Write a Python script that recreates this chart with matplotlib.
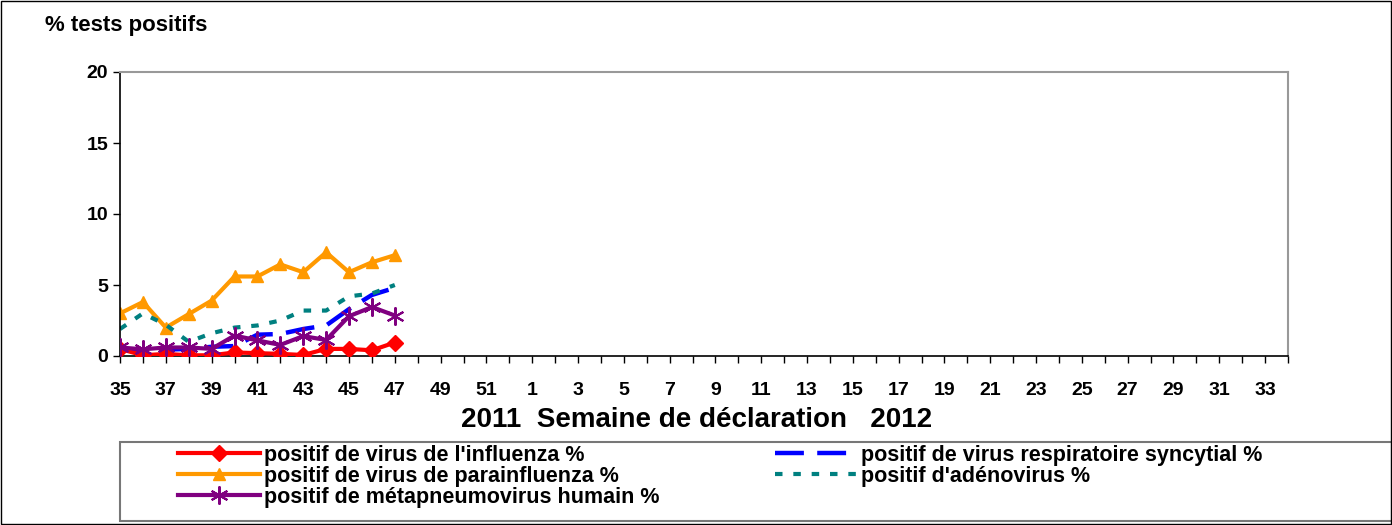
import numpy as np
import matplotlib.pyplot as plt
from matplotlib.patches import Rectangle

plt.rcParams['font.family'] = ['Liberation Sans', 'DejaVu Sans']
plt.rcParams['font.weight'] = 'bold'

# semaines 35..52 (2011) puis 1..34 (2012)
weeks = list(range(35, 53)) + list(range(1, 35))

influenza = [0.5, 0.05, 0.15, 0.05, 0.05, 0.25, 0.2, 0.15, 0.07, 0.5, 0.5, 0.4, 0.95]
rsv = [0.45, 0.4, 0.45, 0.5, 0.65, 0.7, 1.5, 1.55, 1.9, 2.15, 3.3, 4.3, 4.8]
parainfluenza = [3.0, 3.8, 2.0, 2.95, 3.9, 5.6, 5.6, 6.45, 5.9, 7.3, 5.9, 6.6, 7.1]
adenovirus = [1.9, 3.0, 2.2, 1.0, 1.6, 2.0, 2.15, 2.5, 3.2, 3.2, 4.2, 4.4, 5.0]
metapneumo = [0.6, 0.47, 0.6, 0.6, 0.5, 1.44, 1.1, 0.78, 1.4, 1.13, 2.8, 3.45, 2.85]


def pad(vals):
    out = np.full(len(weeks), np.nan)
    out[:len(vals)] = vals
    return out


x = np.arange(len(weeks))
W, H = 1392, 525

fig = plt.figure(figsize=(13.92, 5.25), dpi=100)
ax = fig.add_axes([120 / W, 1 - 356 / H, 1168 / W, 284 / H])

l1, = ax.plot(x, pad(influenza), color='#ff0000', lw=3, marker='D', ms=8,
              label="positif de virus de l'influenza %")
l2, = ax.plot(x, pad(parainfluenza), color='#ff9900', lw=3, marker='^', ms=9,
              label="positif de virus de parainfluenza %")
l3, = ax.plot(x, pad(metapneumo), color='#800080', lw=3, marker=(6, 2, 0), ms=13,
              mew=1.5, label="positif de métapneumovirus humain %")
l4, = ax.plot(x, pad(rsv), color='#0000ff', lw=3.2, dashes=(6.5, 3),
              label="positif de virus respiratoire syncytial %")
l5, = ax.plot(x, pad(adenovirus), color='#008080', lw=3, dashes=(1.8, 2.6),
              label="positif d'adénovirus %")
for ln in (l3, l1):
    ln.set_zorder(3)

ax.set_xlim(0, len(weeks) - 1)
ax.set_ylim(0, 20)
ax.set_yticks([0, 5, 10, 15, 20])
ax.set_xticks(x)
ax.set_xticklabels([str(w) if i % 2 == 0 else '' for i, w in enumerate(weeks)])
ax.tick_params(axis='both', labelsize=14, direction='out', length=5, width=1)
ax.tick_params(axis='x', pad=14)
for lab in ax.get_xticklabels() + ax.get_yticklabels():
    lab.set_fontweight('bold')

ax.spines['top'].set_color('#999999')
ax.spines['right'].set_color('#999999')
ax.spines['top'].set_linewidth(1.5)
ax.spines['right'].set_linewidth(1.5)
ax.spines['left'].set_linewidth(1.2)
ax.spines['bottom'].set_linewidth(1.2)

fig.text(45 / W, 1 - 25 / H, '% tests positifs', fontsize=16,
         fontweight='bold', va='center', ha='left')
fig.text(697 / W, 1 - 420 / H, '2011  Semaine de déclaration   2012',
         fontsize=20, fontweight='bold', ha='center', va='center')

# cadre de la légende
fig.patches.append(Rectangle((120 / W, 1 - 521 / H), 1272 / W, 79 / H,
                             transform=fig.transFigure, fill=False,
                             edgecolor='#777777', lw=1.5))

leg_kw = dict(loc='upper left', frameon=False, handlelength=3.8,
              handletextpad=0.2, labelspacing=0.0, borderpad=0,
              borderaxespad=0, prop={'weight': 'bold', 'size': 15.5})
leg1 = fig.legend(handles=[l1, l2, l3], bbox_to_anchor=(178 / W, 1 - 445 / H), **leg_kw)
leg2 = fig.legend(handles=[l4, l5], bbox_to_anchor=(775 / W, 1 - 445 / H), **leg_kw)

fig.patches.append(Rectangle((0.0005, 0.001), 0.999, 0.998, transform=fig.transFigure,
                             fill=False, edgecolor='black', lw=1))

fig.savefig('out.png', dpi=100)
